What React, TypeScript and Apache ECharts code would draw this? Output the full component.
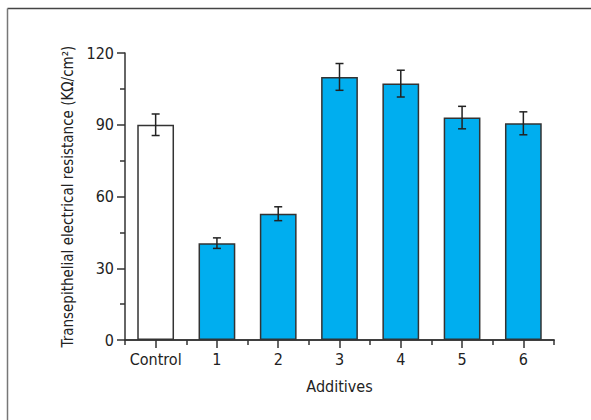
import React, { useEffect, useRef } from "react";
import * as echarts from "echarts";

const categories = ["Control", "1", "2", "3", "4", "5", "6"];
const means = [90, 40.5, 52.8, 110, 107.2, 93, 90.6];
const errors = [4.5, 2.2, 2.9, 5.6, 5.6, 4.7, 4.8];
const yTicks = [0, 30, 60, 90, 120];

const FONT = "'Liberation Sans Narrow', 'DejaVu Sans Condensed', 'Liberation Sans', sans-serif";
const BLUE = "#00AEEF";
const DARK = "#333333";

export default function App() {
  const ref = useRef<HTMLDivElement>(null);
  useEffect(() => {
    if (!ref.current) return;
    const chart = echarts.init(ref.current, undefined, { renderer: "svg" });
    const barData = means.map((v, i) => ({
      value: v,
      itemStyle: { color: i === 0 ? "#ffffff" : BLUE },
    }));
    const errData = means.map((v, i) => [i, v - errors[i], v + errors[i]]);
    chart.setOption({
      animation: false,
      backgroundColor: "#ffffff",
      textStyle: { fontFamily: FONT },
      graphic: [
        { type: "line", shape: { x1: 7.5, y1: 8.5, x2: 591, y2: 8.5 }, style: { stroke: "#444", lineWidth: 1.5 } },
        { type: "line", shape: { x1: 7.5, y1: 8.5, x2: 7.5, y2: 420 }, style: { stroke: "#777", lineWidth: 1.5 } },
      ],
      grid: { left: 125, right: 37, top: 53, bottom: 80 },
      xAxis: [
        {
          type: "category",
          data: categories,
          axisLine: { show: true, lineStyle: { color: DARK, width: 1.5 } },
          axisTick: { show: true, alignWithLabel: true, interval: 0, length: 8, lineStyle: { color: DARK, width: 1.5 } },
          axisLabel: { color: "#222", fontSize: 16, margin: 11, interval: 0, fontFamily: FONT },
          name: "Additives",
          nameLocation: "middle",
          nameGap: 38,
          nameTextStyle: { color: "#222", fontSize: 16, fontFamily: FONT },
        },
        {
          type: "category",
          data: categories,
          position: "bottom",
          axisLine: { show: true, lineStyle: { color: DARK, width: 1.5 } },
          axisTick: { show: true, alignWithLabel: false, interval: 0, length: 5, lineStyle: { color: DARK, width: 1.5 } },
          axisLabel: { show: false },
        },
      ],
      yAxis: {
        type: "value",
        min: 0,
        max: 120,
        interval: 30,
        axisLine: { show: true, lineStyle: { color: DARK, width: 1.5 } },
        axisTick: { show: true, length: 8, lineStyle: { color: DARK, width: 1.5 } },
        minorTick: { show: true, splitNumber: 2, length: 5, lineStyle: { color: DARK, width: 1.5 } },
        splitLine: { show: false },
        axisLabel: {
          color: "#222",
          fontSize: 16,
          margin: 11,
          fontFamily: FONT,
          formatter: (v: number) => (yTicks.includes(v) ? String(v) : ""),
        },
        name: "Transepithelial electrical resistance (KΩ/cm²)",
        nameLocation: "middle",
        nameGap: 47,
        nameTextStyle: { color: "#222", fontSize: 15, fontFamily: FONT },
      },
      series: [
        {
          type: "bar",
          data: barData,
          barWidth: "60%",
          itemStyle: { borderColor: DARK, borderWidth: 1.5 },
        },
        {
          type: "custom",
          data: errData,
          z: 10,
          renderItem: (params: any, api: any) => {
            const x = api.value(0);
            const lo = api.coord([x, api.value(1)]);
            const hi = api.coord([x, api.value(2)]);
            const w = 4;
            const style = { stroke: "#222", lineWidth: 1.5 };
            return {
              type: "group",
              children: [
                { type: "line", shape: { x1: lo[0], y1: lo[1], x2: hi[0], y2: hi[1] }, style },
                { type: "line", shape: { x1: hi[0] - w, y1: hi[1], x2: hi[0] + w, y2: hi[1] }, style },
                { type: "line", shape: { x1: lo[0] - w, y1: lo[1], x2: lo[0] + w, y2: lo[1] }, style },
              ],
            };
          },
        },
      ],
    });
    return () => chart.dispose();
  }, []);
  return (
    <div
      ref={ref}
      style={{ position: "absolute", left: 0, top: 0, width: 591, height: 420 }}
    />
  );
}
